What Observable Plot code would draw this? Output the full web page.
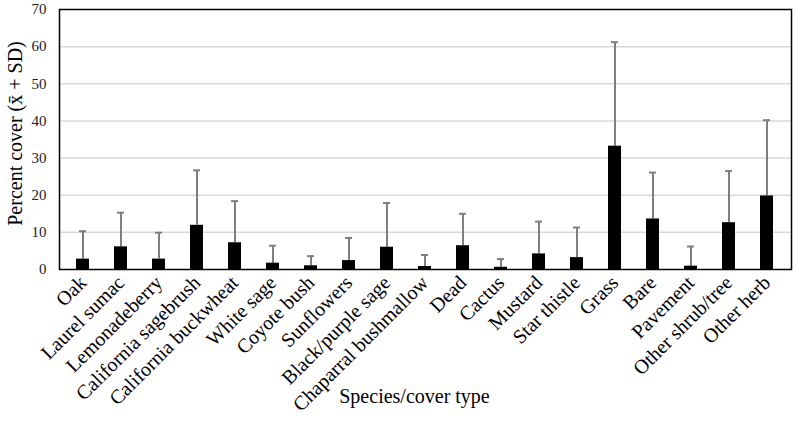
<!DOCTYPE html>
<html>
<head>
<meta charset="utf-8">
<script src="https://cdn.jsdelivr.net/npm/d3@7"></script>
<script src="https://cdn.jsdelivr.net/npm/@observablehq/plot@0.6"></script>
<style>
  html, body { margin: 0; padding: 0; background: #fff; }
  #chart svg { display: block; }
</style>
</head>
<body>
<div id="chart"></div>
<script>
const categories = ["Oak", "Laurel sumac", "Lemonadeberry", "California sagebrush", "California buckwheat",
  "White sage", "Coyote bush", "Sunflowers", "Black/purple sage", "Chaparral bushmallow",
  "Dead", "Cactus", "Mustard", "Star thistle", "Grass", "Bare", "Pavement", "Other shrub/tree", "Other herb"];
const means =       [2.8, 6.1, 2.8, 11.9, 7.2, 1.7, 1.0, 2.4, 6.0, 0.8, 6.4, 0.6, 4.2, 3.2, 33.2, 13.6, 0.9, 12.6, 19.8];
const meanPlusSD =  [10.3, 15.3, 9.9, 26.7, 18.4, 6.4, 3.6, 8.5, 17.9, 3.9, 15.0, 2.8, 12.9, 11.3, 61.2, 26.1, 6.2, 26.5, 40.2];
const yTicks = [0, 10, 20, 30, 40, 50, 60, 70];
const gridTicks = [10, 20, 30, 40, 50, 60];
const yTitle = "Percent cover (x\u0304 + SD)";
const xTitle = "Species/cover type";

const data = categories.map((c, i) => ({cat: c, mean: means[i], upper: meanPlusSD[i]}));

const chart = Plot.plot({
  width: 796,
  height: 431,
  marginLeft: 59,
  marginRight: 5,
  marginTop: 9,
  marginBottom: 162,
  style: {fontFamily: "'Liberation Serif', 'Times New Roman', serif", fontSize: "14px", color: "#000", background: "#fff"},
  x: {domain: categories, paddingInner: 0.65, paddingOuter: 0.325, label: null},
  y: {domain: [0, 70], label: null},
  marks: [
    Plot.gridY(gridTicks, {stroke: "#d9d9d9", strokeOpacity: 1, strokeWidth: 1.5}),
    Plot.axisY(yTicks, {tickSize: 0, tickPadding: 13, fontSize: 15, fill: "#222", label: null}),
    Plot.axisX({tickRotate: -45, tickSize: 0, tickPadding: 10, fontSize: 20, fill: "#000", label: null}),
    Plot.ruleX(data, {x: "cat", y1: "mean", y2: "upper", stroke: "#7f7f7f", strokeWidth: 2}),
    Plot.tickY(data, {x: "cat", y: "upper", stroke: "#7f7f7f", strokeWidth: 2, insetLeft: 3, insetRight: 3}),
    Plot.barY(data, {x: "cat", y: "mean", fill: "#000"}),
    Plot.frame({stroke: "#000", strokeWidth: 1.5}),
    Plot.text([yTitle], {frameAnchor: "left", textAnchor: "middle", rotate: -90, dx: -44, dy: -6, fontSize: 20, fill: "#000"}),
    Plot.text([xTitle], {frameAnchor: "bottom", dy: 133, dx: -11, fontSize: 20, fill: "#000"})
  ]
});
document.getElementById("chart").appendChild(chart);
</script>
</body>
</html>
